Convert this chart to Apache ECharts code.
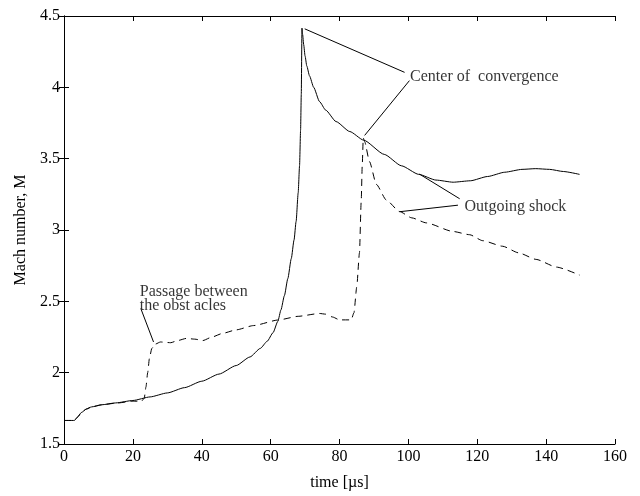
<!DOCTYPE html>
<html>
<head>
<meta charset="utf-8">
<script src="https://cdn.jsdelivr.net/npm/echarts@6/dist/echarts.min.js"></script>
<style>
  html, body { margin: 0; padding: 0; background: #fff; }
  #chart { width: 640px; height: 496px; }
</style>
</head>
<body>
<div id="chart"></div>
<script>
// solid curve
var solidT = [0, 3, 4, 5, 6.5, 8, 11, 15, 20, 25, 30, 35, 40, 45, 50, 54, 57, 59, 60.7, 62.1, 63, 64, 65, 66, 66.8, 67.4, 68, 68.4, 68.7, 68.9, 69.1,
  69.3, 69.6, 70, 70.5, 71.3, 72.5, 74.2, 76, 79, 83, 87, 93, 98, 103, 108, 113, 118, 123, 128, 133, 137, 141, 145, 149.7];
var solidM = [1.665, 1.665, 1.69, 1.72, 1.745, 1.76, 1.775, 1.788, 1.805, 1.83, 1.858, 1.895, 1.94, 1.99, 2.05, 2.11, 2.17, 2.22, 2.28, 2.36, 2.44, 2.54, 2.66, 2.8, 2.93, 3.06, 3.26, 3.45, 3.7, 3.95, 4.415,
  4.37, 4.3, 4.22, 4.15, 4.08, 4.0, 3.9, 3.84, 3.76, 3.69, 3.63, 3.53, 3.45, 3.39, 3.35, 3.335, 3.345, 3.375, 3.405, 3.425, 3.43, 3.425, 3.41, 3.39];

// dashed curve
var dashT = [0, 3, 4, 5, 6.5, 8, 11, 15, 20, 22.5, 23.3, 23.8, 24.3, 24.8, 25.5, 26.5, 28, 31, 33, 35.5, 38, 40.3, 43, 46, 50, 55, 62.4, 68, 74.2,
  76, 78, 80, 83.4, 84.2, 85, 85.8, 86.3, 86.6, 86.9, 87.3, 88.7, 90.7, 93.6, 97.4, 101, 105.2, 112.9, 117.8, 121.6, 127.4, 132, 137.1, 143, 149.7];
var dashM = [1.665, 1.665, 1.69, 1.72, 1.745, 1.76, 1.775, 1.786, 1.8, 1.8, 1.82, 1.9, 2.0, 2.1, 2.17, 2.2, 2.215, 2.21, 2.225, 2.24, 2.235, 2.225, 2.25, 2.275, 2.3, 2.33, 2.37, 2.395, 2.415,
  2.41, 2.39, 2.37, 2.37, 2.42, 2.6, 2.84, 3.2, 3.45, 3.645, 3.62, 3.48, 3.32, 3.21, 3.13, 3.085, 3.05, 2.99, 2.967, 2.925, 2.886, 2.84, 2.794, 2.74, 2.684];

// annotation leader lines, [t, M] pairs
var convLines = [[[69.9, 4.41], [98.9, 4.105]], [[100.3, 4.047], [87.3, 3.663]]];
var shockLines = [[[114.9, 3.219], [103.2, 3.392]], [[114.4, 3.174], [97.4, 3.128]]];
var passLines = [[[22.3, 2.45], [26.0, 2.215]]];

// annotation texts: [t, M, text]
var notes = [
  [100.5, 4.072, 'Center of  convergence'],
  [116.3, 3.162, 'Outgoing shock'],
  [22.0, 2.518, 'Passage between\nthe obst acles']
];

function pairs(xs, ys) {
  return xs.map(function (x, i) { return [x, ys[i]]; });
}

var font = 'Liberation Serif';
var black = '#000';

var chart = echarts.init(document.getElementById('chart'));

var series = [
  {
    type: 'line', data: pairs(solidT, solidM), symbol: 'none', silent: true,
    smooth: 0.2, smoothMonotone: 'x',
    lineStyle: { color: black, width: 1 }
  },
  {
    type: 'line', data: pairs(dashT, dashM), symbol: 'none', silent: true,
    smooth: 0.2, smoothMonotone: 'x',
    lineStyle: { color: black, width: 1, type: [7, 5] }
  }
];

convLines.concat(shockLines, passLines).forEach(function (seg) {
  series.push({
    type: 'line', data: seg, symbol: 'none', silent: true,
    lineStyle: { color: black, width: 1 }
  });
});

series.push({
  type: 'scatter', symbolSize: 0, silent: true,
  data: notes.map(function (n) { return { value: [n[0], n[1]], name: n[2] }; }),
  label: {
    show: true, position: 'right', distance: 0,
    formatter: function (p) { return p.name; },
    fontFamily: font, fontSize: 16, color: black, lineHeight: 14,
    align: 'left', verticalAlign: 'middle'
  }
});

var tickStyle = { inside: true, length: 5, lineStyle: { color: black, width: 1 } };

chart.setOption({
  animation: false,
  grid: { left: 64, top: 16, right: 25, bottom: 45 },
  xAxis: [
    {
      type: 'value', min: 0, max: 160, interval: 20,
      name: 'time [\u00b5s]', nameLocation: 'middle', nameGap: 31,
      nameTextStyle: { fontFamily: font, fontSize: 16, color: black },
      axisLine: { lineStyle: { color: black, width: 1 } },
      axisTick: tickStyle,
      axisLabel: { fontFamily: font, fontSize: 16, color: black, margin: 5 },
      splitLine: { show: false }
    },
    {
      type: 'value', min: 0, max: 160, interval: 20, position: 'top',
      axisLine: { lineStyle: { color: black, width: 1 } },
      axisTick: tickStyle, axisLabel: { show: false }, splitLine: { show: false }
    }
  ],
  yAxis: [
    {
      type: 'value', min: 1.5, max: 4.5, interval: 0.5,
      name: 'Mach number, M', nameLocation: 'middle', nameGap: 35,
      nameTextStyle: { fontFamily: font, fontSize: 16, color: black },
      axisLine: { show: true, lineStyle: { color: black, width: 1 } },
      axisTick: tickStyle,
      axisLabel: { fontFamily: font, fontSize: 16, color: black, margin: 4 },
      splitLine: { show: false }
    },
    {
      type: 'value', min: 1.5, max: 4.5, interval: 0.5, position: 'right',
      axisLine: { show: true, lineStyle: { color: black, width: 1 } },
      axisTick: tickStyle, axisLabel: { show: false }, splitLine: { show: false }
    }
  ],
  series: series
});
</script>
</body>
</html>
